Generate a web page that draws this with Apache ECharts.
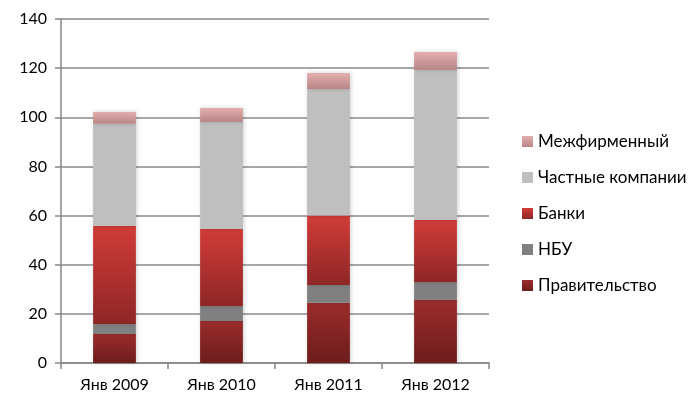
<!DOCTYPE html>
<html>
<head>
<meta charset="utf-8">
<script src="https://cdn.jsdelivr.net/npm/echarts@6/dist/echarts.min.js"></script>
<style>
  html, body { margin: 0; padding: 0; background: #fff; }
  #chart { width: 694px; height: 403px; }
</style>
</head>
<body>
<div id="chart"></div>
<script>
// Categories and stacked series values
const categories = ['Янв 2009', 'Янв 2010', 'Янв 2011', 'Янв 2012'];
const government = [11.8, 17.1, 24.5, 25.6];
const nbu = [4.1, 6.1, 7.2, 7.4];
const banks = [39.9, 31.3, 28.3, 25.2];
const privateCompanies = [41.6, 43.6, 51.5, 61.0];
const interCompany = [4.8, 5.7, 6.5, 7.4];

const seriesNames = ['Правительство', 'НБУ', 'Банки', 'Частные компании', 'Межфирменный'];
const legendOrder = ['Межфирменный', 'Частные компании', 'Банки', 'НБУ', 'Правительство'];

function grad(top, bottom) {
  return new echarts.graphic.LinearGradient(0, 0, 0, 1, [
    { offset: 0, color: top },
    { offset: 1, color: bottom }
  ]);
}

const styles = [
  grad('#9c2c2c', '#6c1c1c'),
  '#808080',
  grad('#d13c38', '#8e2626'),
  '#bfbfbf',
  grad('#e3aeae', '#b88687')
];
const values = [government, nbu, banks, privateCompanies, interCompany];

const chart = echarts.init(document.getElementById('chart'));
chart.setOption({
  animation: false,
  textStyle: { fontFamily: 'Lato' },
  grid: { left: 61, right: 205, top: 19, bottom: 40 },
  legend: {
    data: legendOrder,
    orient: 'vertical',
    left: 517,
    top: 128,
    icon: 'rect',
    itemWidth: 11,
    itemHeight: 11,
    itemGap: 19,
    textStyle: { fontSize: 17, color: '#000', fontFamily: 'Lato' }
  },
  xAxis: {
    type: 'category',
    data: categories,
    axisLine: { lineStyle: { color: '#868686', width: 1.5 } },
    axisTick: { show: true, length: 6, lineStyle: { color: '#868686', width: 1.5 } },
    axisLabel: { color: '#000', fontSize: 16, margin: 14 }
  },
  yAxis: {
    type: 'value',
    min: 0,
    max: 140,
    interval: 20,
    axisLine: { show: true, lineStyle: { color: '#868686', width: 1.5 } },
    axisTick: { show: true, length: 6, lineStyle: { color: '#868686', width: 1.5 } },
    axisLabel: { color: '#000', fontSize: 16, margin: 14 },
    splitLine: { lineStyle: { color: '#8a8a8a', width: 1.5 } }
  },
  series: seriesNames.map((name, i) => ({
    name: name,
    type: 'bar',
    stack: 'total',
    barWidth: '40%',
    data: values[i],
    itemStyle: {
      color: styles[i],
      shadowBlur: 4,
      shadowColor: 'rgba(0,0,0,0.18)',
      shadowOffsetX: 1
    }
  }))
});
</script>
</body>
</html>
